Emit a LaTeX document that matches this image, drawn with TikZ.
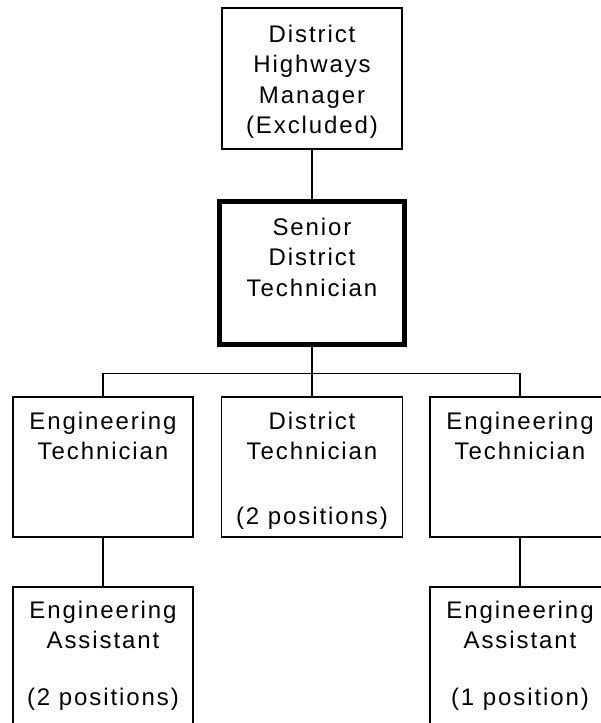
\documentclass[tikz,border=0pt]{standalone}
\usepackage{fontspec}
\setmainfont{Liberation Sans}[LetterSpace=8]
\newcommand\boxtext[3]{\vbox to #1{\hsize=176pt\parindent=0pt\centering\baselineskip=30.5pt\vskip#2\prevdepth=0pt #3\par\vfill}}
\tikzset{
  box/.style={draw=black, line width=1.5pt, inner sep=0pt, minimum width=180pt,
    font=\fontsize{24pt}{30.5pt}\selectfont, text=black},
  thickbox/.style={box, line width=5.5pt, minimum width=184.7pt},
  conn/.style={draw=black, line width=1.5pt}
}
\begin{document}
\begin{tikzpicture}[x=1pt,y=-1pt]
\useasboundingbox (0,0) rectangle (600,723);
\node[box] (mgr) at (312,78.5) {\boxtext{141pt}{3.5pt}{District\\Highways\\Manager\\(Excluded)}};
\node[thickbox] (sen) at (312,273) {\boxtext{143pt}{3pt}{Senior\\District\\Technician}};
\node[box] (etl) at (103,467) {\boxtext{140pt}{1.5pt}{Engineering\\Technician}};
\node[box, minimum width=181pt] (dt) at (312,467) {\boxtext{140pt}{1.5pt}{District\\Technician\\[34.5pt](2 positions)}};
\node[box] (etr) at (520,467) {\boxtext{140pt}{1.5pt}{Engineering\\Technician}};
\node[box] (eal) at (103,657) {\boxtext{140pt}{0.5pt}{Engineering\\Assistant\\[26.5pt](2 positions)}};
\node[box] (ear) at (520,657) {\boxtext{140pt}{0.5pt}{Engineering\\Assistant\\[26.5pt](1 position)}};
\coordinate (bus) at (312,373.3);
\draw[conn] (mgr.south) -- (sen.north);
\draw[conn] (sen.south) -- (dt.north);
\draw[conn] (etl.north) -- (etl.north |- bus) -- (etr.north |- bus) -- (etr.north);
\draw[conn] (etl.south) -- (eal.north);
\draw[conn] (etr.south) -- (ear.north);
\end{tikzpicture}
\end{document}
